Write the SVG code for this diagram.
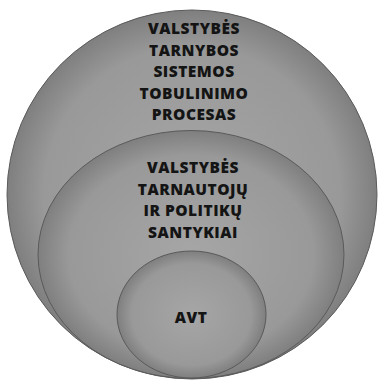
<svg xmlns="http://www.w3.org/2000/svg" width="378" height="380" viewBox="0 0 378 380">
<defs>
<radialGradient id="g" cx="50%" cy="50%" r="50%">
<stop offset="0" stop-color="#a6a6a6"/>
<stop offset="0.8" stop-color="#999"/>
<stop offset="1" stop-color="#7f7f7f"/>
</radialGradient>
</defs>
<style>
.c{fill:url(#g);stroke:#5a5a5a;stroke-width:1}
.t{font-family:"Open Sans","Liberation Sans",sans-serif;font-weight:800;font-size:15.5px;letter-spacing:0.5px;fill:#141414;text-anchor:middle}
</style>
<rect width="378" height="380" fill="#fff"/>
<g id="outer">
<ellipse class="c" cx="192" cy="194.5" rx="185" ry="184.5"/>
<text class="t" x="194" y="34">VALSTYBĖS</text>
<text class="t" x="194" y="56">TARNYBOS</text>
<text class="t" x="194" y="77">SISTEMOS</text>
<text class="t" x="194" y="98.5">TOBULINIMO</text>
<text class="t" x="194" y="120">PROCESAS</text>
</g>
<g id="middle">
<ellipse class="c" cx="191" cy="254.5" rx="153" ry="124"/>
<text class="t" x="193" y="173">VALSTYBĖS</text>
<text class="t" x="193" y="195">TARNAUTOJŲ</text>
<text class="t" x="193" y="216">IR POLITIKŲ</text>
<text class="t" x="193" y="238">SANTYKIAI</text>
</g>
<g id="inner">
<ellipse class="c" cx="191.5" cy="314.5" rx="74.5" ry="63.5"/>
<text class="t" x="191" y="323">AVT</text>
</g>
<g id="connectors"/>
</svg>
